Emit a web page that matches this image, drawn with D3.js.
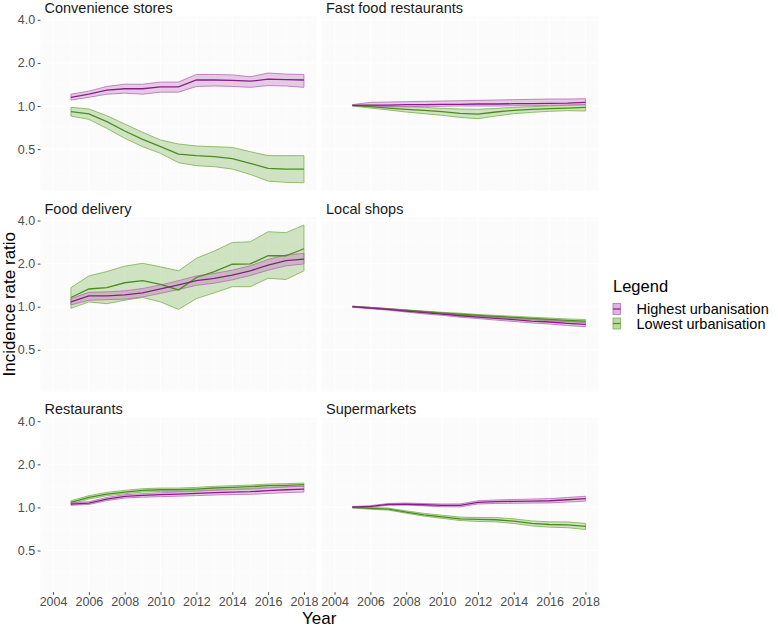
<!DOCTYPE html>
<html><head><meta charset="utf-8">
<script src="https://cdn.jsdelivr.net/npm/d3@7"></script>
<style>
body{margin:0;background:#fff}
svg{display:block}
text{font-family:"Liberation Sans",Arial,Helvetica,sans-serif}
</style>
</head><body>
<svg id="chart" width="778" height="626"></svg>
<script>
// ---------------- DATA ----------------
const years = [2005,2006,2007,2008,2009,2010,2011,2012,2013,2014,2015,2016,2017,2018];
const xTicks = [2004,2006,2008,2010,2012,2014,2016,2018];
const yTicks = [0.5,1,2,4];
const facetNames = ["Convenience stores","Fast food restaurants","Food delivery","Local shops","Restaurants","Supermarkets"];
const groupNames = ["Highest urbanisation","Lowest urbanisation"];

// Convenience stores
const convHighEst = [1.15,1.21,1.29,1.32,1.32,1.36,1.36,1.52,1.52,1.51,1.49,1.54,1.53,1.52];
const convHighLo  = [1.10,1.15,1.21,1.23,1.21,1.25,1.25,1.37,1.38,1.37,1.35,1.39,1.38,1.35];
const convHighHi  = [1.21,1.27,1.37,1.42,1.42,1.47,1.47,1.66,1.66,1.65,1.60,1.70,1.67,1.66];
const convLowEst  = [0.913,0.88,0.777,0.669,0.585,0.52,0.462,0.45,0.443,0.429,0.398,0.367,0.363,0.363];
const convLowLo   = [0.851,0.807,0.698,0.595,0.52,0.467,0.402,0.383,0.377,0.363,0.333,0.299,0.293,0.291];
const convLowHi   = [0.979,0.953,0.856,0.749,0.655,0.579,0.543,0.526,0.52,0.514,0.48,0.45,0.45,0.45];

// Fast food restaurants
const fastHighEst = [1.011,1.016,1.016,1.022,1.022,1.027,1.027,1.033,1.033,1.038,1.038,1.044,1.049,1.061];
const fastHighLo  = [1.0,0.989,0.989,0.989,0.995,0.995,1.0,1.0,1.0,1.005,1.005,1.011,1.016,1.022];
const fastHighHi  = [1.022,1.061,1.066,1.072,1.078,1.084,1.089,1.095,1.101,1.107,1.113,1.119,1.119,1.125];
const fastLowEst  = [1.011,0.989,0.968,0.948,0.933,0.913,0.889,0.879,0.908,0.933,0.948,0.958,0.968,0.979];
const fastLowLo   = [1.0,0.968,0.938,0.908,0.884,0.861,0.833,0.816,0.851,0.884,0.903,0.918,0.928,0.923];
const fastLowHi   = [1.016,1.011,1.0,0.989,0.979,0.963,0.953,0.948,0.963,0.979,0.989,1.0,1.011,1.022];

// Food delivery
const delivHighEst = [1.08,1.19,1.19,1.21,1.25,1.33,1.42,1.52,1.58,1.66,1.78,1.95,2.10,2.15];
const delivHighLo  = [1.03,1.11,1.12,1.13,1.17,1.24,1.32,1.41,1.46,1.54,1.65,1.80,1.93,1.99];
const delivHighHi  = [1.14,1.26,1.27,1.29,1.34,1.42,1.52,1.64,1.71,1.80,1.93,2.14,2.30,2.36];
const delivLowEst  = [1.16,1.33,1.36,1.47,1.52,1.43,1.31,1.60,1.76,1.98,1.99,2.27,2.27,2.54];
const delivLowLo   = [0.974,1.08,1.05,1.11,1.16,1.08,0.958,1.14,1.25,1.38,1.38,1.58,1.55,1.78];
const delivLowHi   = [1.36,1.64,1.76,1.92,2.01,1.90,1.78,2.18,2.45,2.81,2.84,3.34,3.29,3.72];

// Local shops
const localHighEst = [1.0,0.979,0.958,0.933,0.908,0.889,0.865,0.847,0.829,0.812,0.794,0.782,0.765,0.753];
const localHighLo  = [0.99,0.968,0.945,0.918,0.891,0.871,0.845,0.826,0.807,0.789,0.770,0.757,0.739,0.725];
const localHighHi  = [1.01,0.99,0.971,0.948,0.925,0.907,0.885,0.868,0.851,0.835,0.818,0.807,0.791,0.78];
const localLowEst  = [1.0,0.984,0.963,0.943,0.923,0.903,0.889,0.870,0.856,0.842,0.829,0.816,0.803,0.794];
const localLowLo   = [0.995,0.978,0.955,0.934,0.912,0.891,0.876,0.856,0.841,0.826,0.812,0.798,0.785,0.774];
const localLowHi   = [1.005,0.99,0.97,0.952,0.933,0.914,0.901,0.883,0.870,0.857,0.845,0.833,0.821,0.814];

// Restaurants
const restHighEst = [1.055,1.072,1.144,1.194,1.213,1.227,1.240,1.253,1.267,1.280,1.287,1.308,1.329,1.344];
const restHighLo  = [1.034,1.049,1.116,1.163,1.179,1.189,1.199,1.209,1.221,1.230,1.234,1.252,1.268,1.280];
const restHighHi  = [1.076,1.096,1.173,1.226,1.248,1.266,1.282,1.298,1.315,1.332,1.342,1.367,1.393,1.411];
const restLowEst  = [1.084,1.175,1.240,1.280,1.315,1.329,1.329,1.344,1.366,1.380,1.395,1.418,1.426,1.441];
const restLowLo   = [1.055,1.144,1.207,1.246,1.280,1.294,1.294,1.309,1.330,1.344,1.358,1.381,1.389,1.403];
const restLowHi   = [1.113,1.207,1.273,1.315,1.351,1.365,1.365,1.380,1.403,1.417,1.433,1.456,1.465,1.480];

// Supermarkets
const superHighEst = [1.005,1.016,1.050,1.055,1.044,1.033,1.033,1.084,1.096,1.102,1.107,1.113,1.131,1.150];
const superHighLo  = [0.995,1.004,1.034,1.037,1.025,1.011,1.009,1.057,1.066,1.069,1.072,1.075,1.090,1.106];
const superHighHi  = [1.015,1.028,1.066,1.073,1.064,1.056,1.058,1.112,1.127,1.136,1.144,1.152,1.174,1.196];
const superLowEst  = [1.0,0.984,0.973,0.928,0.888,0.860,0.833,0.824,0.820,0.802,0.773,0.760,0.756,0.736];
const superLowLo   = [0.990,0.971,0.958,0.911,0.869,0.839,0.810,0.798,0.792,0.773,0.743,0.728,0.722,0.701];
const superLowHi   = [1.01,0.997,0.989,0.946,0.908,0.882,0.856,0.850,0.849,0.832,0.805,0.793,0.792,0.773];

// ---------------- BUILD ----------------
function rows(est, lo, hi){ return years.map((y,i)=>({year:y, est:est[i], lo:lo[i], hi:hi[i]})); }
const facets = [
  {name:facetNames[0], high:rows(convHighEst,convHighLo,convHighHi),   low:rows(convLowEst,convLowLo,convLowHi)},
  {name:facetNames[1], high:rows(fastHighEst,fastHighLo,fastHighHi),   low:rows(fastLowEst,fastLowLo,fastLowHi)},
  {name:facetNames[2], high:rows(delivHighEst,delivHighLo,delivHighHi),low:rows(delivLowEst,delivLowLo,delivLowHi)},
  {name:facetNames[3], high:rows(localHighEst,localHighLo,localHighHi),low:rows(localLowEst,localLowLo,localLowHi)},
  {name:facetNames[4], high:rows(restHighEst,restHighLo,restHighHi),   low:rows(restLowEst,restLowLo,restLowHi)},
  {name:facetNames[5], high:rows(superHighEst,superHighLo,superHighHi),low:rows(superLowEst,superLowLo,superLowHi)}
];

const colors = {
  high:{line:"#8a1c89", fill:"#b35ab3", edge:"#b86ab8"},
  low: {line:"#4b8e1e", fill:"#6aa83a", edge:"#79b24c"}
};

// layout
const colX = [40.5, 322];
const rowTop = [16.4, 217.1, 417.8];
const panelW = 276, panelH = 174.3;

// scales
const allVals = [];
facets.forEach(f=>{ [f.high,f.low].forEach(s=>s.forEach(d=>{allVals.push(d.lo,d.hi);})); });
const lmin = Math.log10(d3.min(allVals)), lmax = Math.log10(d3.max(allVals));
const pad = (lmax-lmin)*0.05;
const y = d3.scaleLog().domain([Math.pow(10,lmin-pad), Math.pow(10,lmax+pad)]).range([panelH,0]);
const xPad = (d3.max(xTicks)-d3.min(xTicks))*0.05;
const x = d3.scaleLinear().domain([d3.min(xTicks)-xPad, d3.max(xTicks)+xPad]).range([0,panelW]);

const svg = d3.select("#chart");
svg.append("rect").attr("width",778).attr("height",626).attr("fill","#ffffff");

const area = d3.area().x(d=>x(d.year)).y0(d=>y(d.lo)).y1(d=>y(d.hi));
const line = d3.line().x(d=>x(d.year)).y(d=>y(d.est));

const yMinor = [];
for(let i=0;i<yTicks.length-1;i++) yMinor.push(Math.sqrt(yTicks[i]*yTicks[i+1]));
yMinor.push(Math.sqrt(yTicks[0]*yTicks[0]/2));
const xMinor = [];
for(let i=0;i<xTicks.length-1;i++) xMinor.push((xTicks[i]+xTicks[i+1])/2);

facets.forEach((f,i)=>{
  const c = i%2, r = Math.floor(i/2);
  const g = svg.append("g").attr("transform",`translate(${colX[c]},${rowTop[r]})`);
  g.append("rect").attr("width",panelW).attr("height",panelH).attr("fill","#fbfbfb");
  // gridlines
  g.selectAll(".ymin").data(yMinor.filter(v=>y(v)>0&&y(v)<panelH)).enter().append("line")
    .attr("x1",0).attr("x2",panelW).attr("y1",d=>y(d)).attr("y2",d=>y(d))
    .attr("stroke","#ffffff").attr("stroke-width",0.6);
  g.selectAll(".xmin").data(xMinor).enter().append("line")
    .attr("y1",0).attr("y2",panelH).attr("x1",d=>x(d)).attr("x2",d=>x(d))
    .attr("stroke","#ffffff").attr("stroke-width",0.6);
  g.selectAll(".ymaj").data(yTicks).enter().append("line")
    .attr("x1",0).attr("x2",panelW).attr("y1",d=>y(d)).attr("y2",d=>y(d))
    .attr("stroke","#ffffff").attr("stroke-width",1.1);
  g.selectAll(".xmaj").data(xTicks).enter().append("line")
    .attr("y1",0).attr("y2",panelH).attr("x1",d=>x(d)).attr("x2",d=>x(d))
    .attr("stroke","#ffffff").attr("stroke-width",1.1);

  // ribbons
  [["low",f.low],["high",f.high]].forEach(([k,s])=>{
    g.append("path").datum(s).attr("d",area)
      .attr("fill",colors[k].fill).attr("fill-opacity",0.3)
      .attr("stroke",colors[k].edge).attr("stroke-width",0.8);
  });
  [["low",f.low],["high",f.high]].forEach(([k,s])=>{
    g.append("path").datum(s).attr("d",line)
      .attr("fill","none").attr("stroke",colors[k].line).attr("stroke-width",1.3);
  });

  // strip title
  svg.append("text").attr("x",colX[c]+4).attr("y",rowTop[r]-3.6)
    .attr("font-size",14.5).attr("fill","#1a1a1a").text(f.name);

  // y axis on left column
  if(c===0){
    const ya = svg.append("g").attr("transform",`translate(${colX[c]},${rowTop[r]})`)
      .call(d3.axisLeft(y).tickValues(yTicks).tickFormat(d3.format(".1f")).tickSize(2.8).tickPadding(2.5));
    ya.select(".domain").remove();
    ya.selectAll(".tick line").attr("stroke","#4d4d4d");
    ya.selectAll(".tick text").attr("fill","#4d4d4d").attr("font-size",12.5)
      .attr("font-family","'Liberation Sans',Arial,sans-serif");
  }
  // x axis on bottom row
  if(r===2){
    const xa = svg.append("g").attr("transform",`translate(${colX[c]},${rowTop[r]+panelH})`)
      .call(d3.axisBottom(x).tickValues(xTicks).tickFormat(d3.format("d")).tickSize(2.8).tickPadding(2.5));
    xa.select(".domain").remove();
    xa.selectAll(".tick line").attr("stroke","#4d4d4d");
    xa.selectAll(".tick text").attr("fill","#4d4d4d").attr("font-size",12.5)
      .attr("font-family","'Liberation Sans',Arial,sans-serif");
  }
});

// axis titles
svg.append("text").attr("x",(colX[0]+colX[1]+panelW)/2).attr("y",623.5)
  .attr("text-anchor","middle").attr("font-size",17).attr("fill","#000").text("Year");
svg.append("text").attr("transform",`translate(15,${(rowTop[0]+rowTop[2]+panelH)/2}) rotate(-90)`)
  .attr("text-anchor","middle").attr("font-size",17).attr("fill","#000").text("Incidence rate ratio");

// legend
const lg = svg.append("g");
lg.append("text").attr("x",613).attr("y",292.3).attr("font-size",16.5).attr("fill","#000").text("Legend");
[["high",groupNames[0]],["low",groupNames[1]]].forEach(([k,label],i)=>{
  const ky = 303.5 + i*14.5;
  lg.append("rect").attr("x",613).attr("y",ky).attr("width",7.5).attr("height",11)
    .attr("fill",colors[k].fill).attr("fill-opacity",0.45)
    .attr("stroke",colors[k].edge).attr("stroke-width",0.8);
  lg.append("line").attr("x1",613).attr("x2",620.5).attr("y1",ky+5.5).attr("y2",ky+5.5)
    .attr("stroke",colors[k].line).attr("stroke-width",1.2);
  lg.append("text").attr("x",636.5).attr("y",ky+10.5).attr("font-size",14.5).attr("fill","#000").text(label);
});
</script>
</body></html>
